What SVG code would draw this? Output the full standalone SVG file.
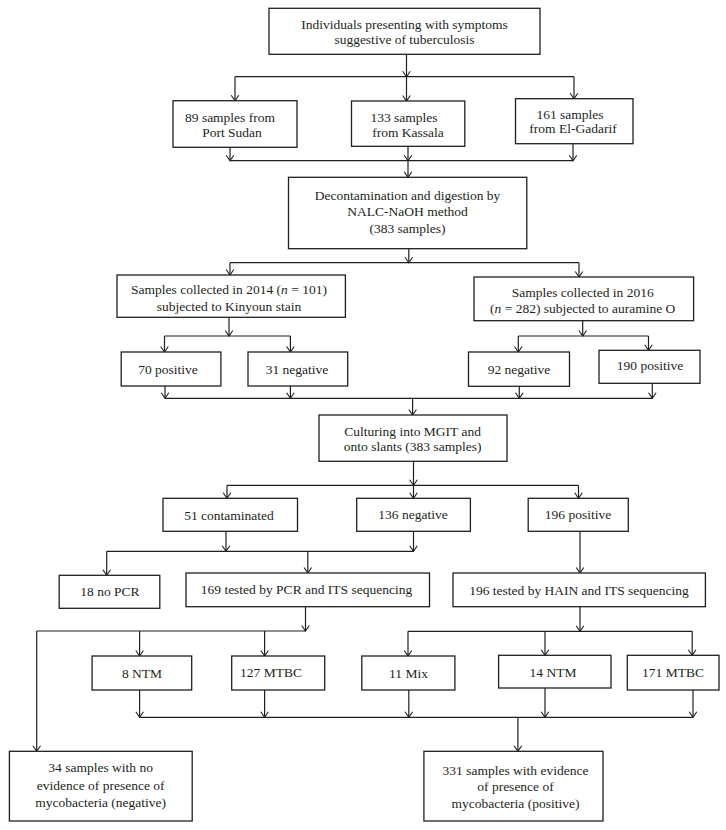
<svg xmlns="http://www.w3.org/2000/svg" width="726" height="830" viewBox="0 0 726 830">
<style>
.box{fill:#fff;stroke:#231f20;stroke-width:1.3}
.t{font-family:"Liberation Serif","Times New Roman",serif;font-size:13.5px;fill:#231f20;text-anchor:middle}
.c{fill:none;stroke:#231f20;stroke-width:1.2}
.a{fill:none;stroke:#231f20;stroke-width:1.2;marker-end:url(#arr)}
</style>
<defs>
<marker id="arr" markerUnits="userSpaceOnUse" viewBox="-7 -5 8 10" refX="0" refY="0" markerWidth="8" markerHeight="10" orient="auto">
<path d="M-5.5,-3.8 L0,0 L-5.5,3.8" fill="none" stroke="#231f20" stroke-width="1.1"/>
</marker>
</defs>
<rect width="726" height="830" fill="#fff"/>
<g id="connectors">
<line class="a" x1="406.5" y1="54.3" x2="406.5" y2="76.7"/>
<line class="c" x1="235" y1="76.7" x2="574" y2="76.7"/>
<line class="a" x1="235" y1="76.7" x2="235" y2="100.7"/>
<line class="a" x1="406.5" y1="76.7" x2="406.5" y2="101"/>
<line class="a" x1="574" y1="76.7" x2="574" y2="98.7"/>
<line class="a" x1="230" y1="147.3" x2="230" y2="160.7"/>
<line class="a" x1="408" y1="146.3" x2="408" y2="160.7"/>
<line class="a" x1="573" y1="143.7" x2="573" y2="160.7"/>
<line class="c" x1="230" y1="160.7" x2="573" y2="160.7"/>
<line class="a" x1="408" y1="160.7" x2="408" y2="177.3"/>
<line class="a" x1="408.8" y1="248.7" x2="408.8" y2="262.7"/>
<line class="c" x1="230" y1="262.7" x2="579" y2="262.7"/>
<line class="a" x1="230" y1="262.7" x2="230" y2="275"/>
<line class="a" x1="579" y1="262.7" x2="579" y2="277"/>
<line class="a" x1="229" y1="317.3" x2="229" y2="336"/>
<line class="c" x1="164.5" y1="336" x2="290.4" y2="336"/>
<line class="a" x1="164.5" y1="336" x2="164.5" y2="352"/>
<line class="a" x1="290.4" y1="336" x2="290.4" y2="352"/>
<line class="a" x1="582.7" y1="320.7" x2="582.7" y2="336"/>
<line class="c" x1="518.3" y1="336" x2="648.5" y2="336"/>
<line class="a" x1="518.3" y1="336" x2="518.3" y2="352"/>
<line class="a" x1="648.5" y1="336" x2="648.5" y2="350.3"/>
<line class="a" x1="165" y1="386" x2="165" y2="398.3"/>
<line class="a" x1="290.4" y1="386" x2="290.4" y2="398.3"/>
<line class="a" x1="519.3" y1="386.3" x2="519.3" y2="398.3"/>
<line class="a" x1="652.3" y1="383.3" x2="652.3" y2="398.3"/>
<line class="c" x1="165" y1="398.3" x2="652.3" y2="398.3"/>
<line class="a" x1="412.6" y1="398.3" x2="412.6" y2="415"/>
<line class="a" x1="413.5" y1="461.3" x2="413.5" y2="485.3"/>
<line class="c" x1="227" y1="485.3" x2="578.5" y2="485.3"/>
<line class="a" x1="227" y1="485.3" x2="227" y2="498.3"/>
<line class="a" x1="413.5" y1="485.3" x2="413.5" y2="498.3"/>
<line class="a" x1="578.5" y1="485.3" x2="578.5" y2="498.3"/>
<line class="a" x1="226" y1="531.3" x2="226" y2="551.3"/>
<line class="a" x1="413.5" y1="531.3" x2="413.5" y2="551.3"/>
<line class="c" x1="106.7" y1="551.3" x2="413.5" y2="551.3"/>
<line class="a" x1="106.7" y1="551.3" x2="106.7" y2="575.3"/>
<line class="a" x1="307.8" y1="551.3" x2="307.8" y2="573"/>
<line class="a" x1="580" y1="531.3" x2="580" y2="573"/>
<line class="a" x1="305.5" y1="606.7" x2="305.5" y2="631"/>
<line class="c" x1="36.7" y1="631" x2="305.5" y2="631"/>
<line class="a" x1="36.7" y1="631" x2="36.7" y2="751.3"/>
<line class="a" x1="139.6" y1="631" x2="139.6" y2="656"/>
<line class="a" x1="264.6" y1="631" x2="264.6" y2="656"/>
<line class="a" x1="580" y1="606.7" x2="580" y2="631.3"/>
<line class="c" x1="408" y1="631.3" x2="692.2" y2="631.3"/>
<line class="a" x1="408" y1="631.3" x2="408" y2="656"/>
<line class="a" x1="545" y1="631.3" x2="545" y2="655.3"/>
<line class="a" x1="692.2" y1="631.3" x2="692.2" y2="655.3"/>
<line class="a" x1="139.6" y1="690" x2="139.6" y2="717.3"/>
<line class="a" x1="264.6" y1="690" x2="264.6" y2="717.3"/>
<line class="a" x1="408.8" y1="690" x2="408.8" y2="717.3"/>
<line class="a" x1="545" y1="688" x2="545" y2="717.3"/>
<line class="a" x1="693" y1="690" x2="693" y2="717.3"/>
<line class="c" x1="139.6" y1="717.3" x2="693" y2="717.3"/>
<line class="a" x1="517.9" y1="717.3" x2="517.9" y2="751.3"/>
</g>
<g id="n_start"><rect class="box" x="269" y="8.3" width="271" height="46"/>
<text class="t" x="404.5" y="28.5">Individuals presenting with symptoms</text>
<text class="t" x="404.5" y="43.8">suggestive of tuberculosis</text></g>
<g id="n_port"><rect class="box" x="173" y="100.7" width="124" height="46.6"/>
<text class="t" x="230" y="121.5">89 samples from</text>
<text class="t" x="232" y="137.2">Port Sudan</text></g>
<g id="n_kassala"><rect class="box" x="351.5" y="101" width="113.3" height="45.3"/>
<text class="t" x="404" y="121.5">133 samples</text>
<text class="t" x="408" y="136.5">from Kassala</text></g>
<g id="n_gadarif"><rect class="box" x="515.5" y="98.7" width="117.5" height="45"/>
<text class="t" x="570" y="118.5">161 samples</text>
<text class="t" x="573" y="132.8">from El-Gadarif</text></g>
<g id="n_decon"><rect class="box" x="288.5" y="177.3" width="238.3" height="71.4"/>
<text class="t" x="407.5" y="199.5">Decontamination and digestion by</text>
<text class="t" x="407.5" y="216.2">NALC-NaOH method</text>
<text class="t" x="407.5" y="232.8">(383 samples)</text></g>
<g id="n_2014"><rect class="box" x="117" y="275" width="228.4" height="42.3"/>
<text class="t" x="229" y="293.8">Samples collected in 2014 (<tspan font-style="italic">n</tspan> = 101)</text>
<text class="t" x="229" y="310.5">subjected to Kinyoun stain</text></g>
<g id="n_2016"><rect class="box" x="474" y="277" width="219.6" height="43.7"/>
<text class="t" x="582.7" y="296.5">Samples collected in 2016</text>
<text class="t" x="582.7" y="312.8">(<tspan font-style="italic">n</tspan> = 282) subjected to auramine O</text></g>
<g id="n_70pos"><rect class="box" x="121.2" y="352" width="99.7" height="34"/>
<text class="t" x="168" y="373.5">70 positive</text></g>
<g id="n_31neg"><rect class="box" x="248" y="352" width="99.7" height="34"/>
<text class="t" x="297" y="373.5">31 negative</text></g>
<g id="n_92neg"><rect class="box" x="468.5" y="352" width="101" height="34.3"/>
<text class="t" x="519" y="373.5">92 negative</text></g>
<g id="n_190pos"><rect class="box" x="599" y="350.3" width="101" height="33"/>
<text class="t" x="650" y="370.2">190 positive</text></g>
<g id="n_culture"><rect class="box" x="319" y="415" width="188" height="46.3"/>
<text class="t" x="412.6" y="436.2">Culturing into MGIT and</text>
<text class="t" x="412.6" y="450.5">onto slants (383 samples)</text></g>
<g id="n_51cont"><rect class="box" x="163" y="498.3" width="134.5" height="33"/>
<text class="t" x="229" y="519.5">51 contaminated</text></g>
<g id="n_136neg"><rect class="box" x="356.7" y="498.3" width="113.7" height="33"/>
<text class="t" x="413" y="518.8">136 negative</text></g>
<g id="n_196pos"><rect class="box" x="528.2" y="498.3" width="100.1" height="33"/>
<text class="t" x="578" y="518.8">196 positive</text></g>
<g id="n_18nopcr"><rect class="box" x="59.2" y="575.3" width="100.6" height="33"/>
<text class="t" x="110" y="595.8">18 no PCR</text></g>
<g id="n_169"><rect class="box" x="186" y="573" width="243.5" height="33.7"/>
<text class="t" x="306.5" y="593.8">169 tested by PCR and ITS sequencing</text></g>
<g id="n_196hain"><rect class="box" x="453" y="573" width="252.4" height="33.7"/>
<text class="t" x="579" y="594.5">196 tested by HAIN and ITS sequencing</text></g>
<g id="n_8ntm"><rect class="box" x="92.1" y="656" width="99.6" height="34"/>
<text class="t" x="142" y="677.8">8 NTM</text></g>
<g id="n_127mtbc"><rect class="box" x="231.7" y="656" width="93" height="34"/>
<text class="t" x="271" y="677.2">127 MTBC</text></g>
<g id="n_11mix"><rect class="box" x="361.8" y="656" width="93.1" height="34"/>
<text class="t" x="408.5" y="677.5">11 Mix</text></g>
<g id="n_14ntm"><rect class="box" x="498.6" y="655.3" width="112.4" height="32.7"/>
<text class="t" x="553" y="676.5">14 NTM</text></g>
<g id="n_171mtbc"><rect class="box" x="627.3" y="655.3" width="91.7" height="34.7"/>
<text class="t" x="673" y="676.5">171 MTBC</text></g>
<g id="n_neg"><rect class="box" x="9.4" y="751.3" width="182.8" height="69.7"/>
<text class="t" x="100.6" y="772.2">34 samples with no</text>
<text class="t" x="100.6" y="789.5">evidence of presence of</text>
<text class="t" x="100.6" y="806.8">mycobacteria (negative)</text></g>
<g id="n_pos"><rect class="box" x="423.9" y="751.3" width="179.1" height="69.7"/>
<text class="t" x="515.5" y="774.5">331 samples with evidence</text>
<text class="t" x="515.5" y="791.2">of presence of</text>
<text class="t" x="515.5" y="807.8">mycobacteria (positive)</text></g>
</svg>
